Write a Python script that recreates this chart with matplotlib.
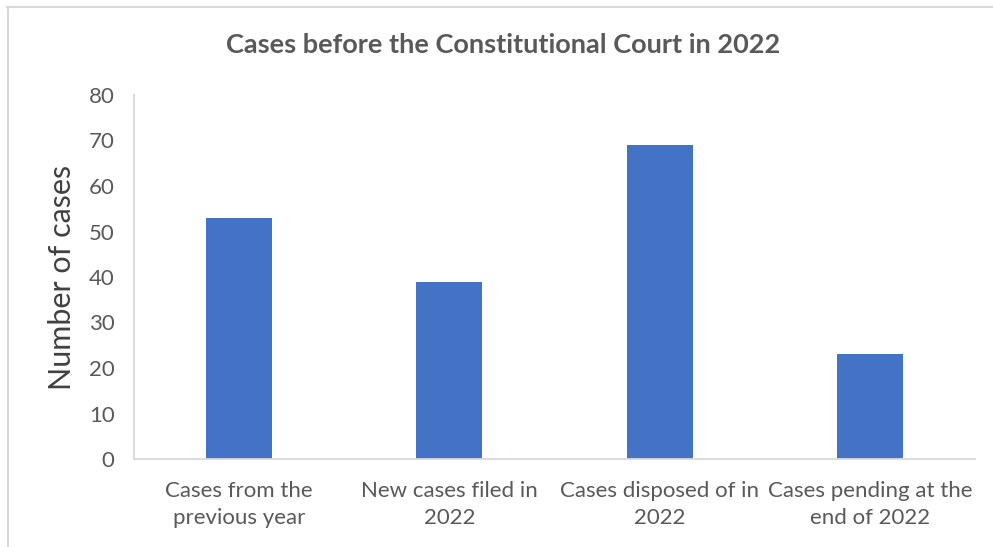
import matplotlib.pyplot as plt
from matplotlib.lines import Line2D

categories = ["Cases from the\nprevious year", "New cases filed in\n2022",
              "Cases disposed of in\n2022", "Cases pending at the\nend of 2022"]
cases = [53, 39, 69, 23]
yticks = [0, 10, 20, 30, 40, 50, 60, 70, 80]

W, H = 993, 547
fig = plt.figure(figsize=(W / 100, H / 100), dpi=100)
plt.rcParams['font.family'] = ['Lato', 'DejaVu Sans']

# plot area in pixel coordinates
left, right, top, bottom = 134, 975, 95, 459
ax = fig.add_axes([left / W, 1 - bottom / H, (right - left) / W, (bottom - top) / H])

x = range(len(categories))
ax.bar(x, cases, width=0.315, color="#4472C4", zorder=2)

ax.set_xlim(-0.5, len(categories) - 0.5)
ax.set_ylim(0, 80)
ax.set_yticks(yticks)
ax.set_xticks(list(x))
ax.set_xticklabels(categories, fontsize=16, color="#595959", linespacing=1.45)
ax.tick_params(axis='y', labelsize=16, labelcolor="#595959", length=0, pad=14)
ax.tick_params(axis='x', length=0, pad=16)

for s in ["top", "right"]:
    ax.spines[s].set_visible(False)
for s in ["left", "bottom"]:
    ax.spines[s].set_color("#D9D9D9")
    ax.spines[s].set_linewidth(1.3)

ax.set_ylabel("Number of cases", fontsize=22, color="#404040", labelpad=9)

fig.text(503 / W, 1 - 45 / H, "Cases before the Constitutional Court in 2022",
         ha="center", va="center", fontsize=19.5, fontweight="bold", color="#595959")

# chart border (top and left edges visible)
fig.add_artist(Line2D([7 / W, 1.0], [1 - 6.5 / H, 1 - 6.5 / H], color="#D9D9D9", lw=1.5,
                      transform=fig.transFigure))
fig.add_artist(Line2D([7.5 / W, 7.5 / W], [0, 1 - 6.5 / H], color="#D9D9D9", lw=1.5,
                      transform=fig.transFigure))

fig.savefig("out.png", dpi=100)
